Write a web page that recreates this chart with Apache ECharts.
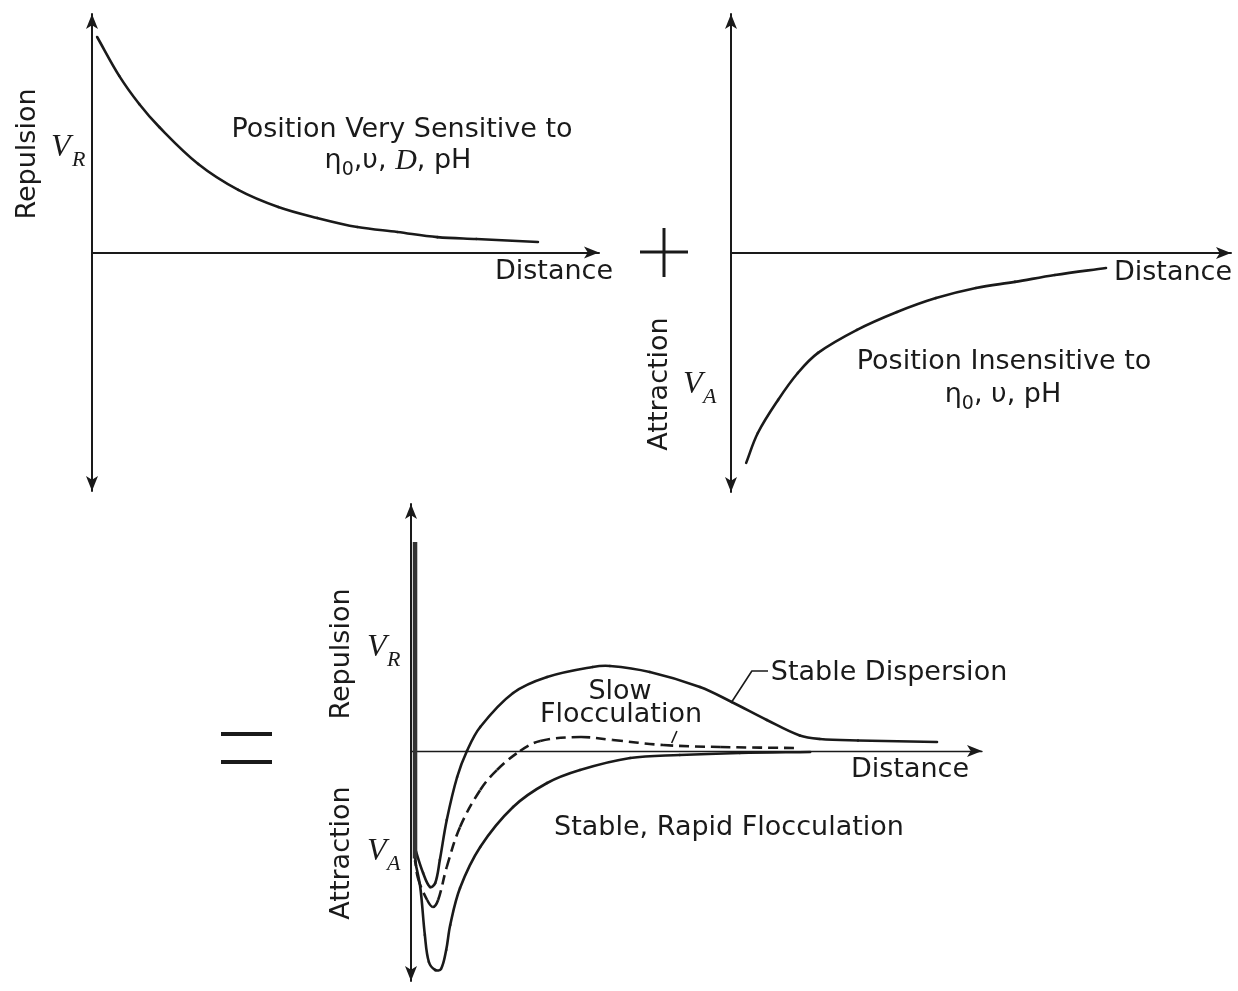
<!DOCTYPE html>
<html>
<head>
<meta charset="utf-8">
<script src="https://cdn.jsdelivr.net/npm/echarts@6/dist/echarts.min.js"></script>
<style>
html,body{margin:0;padding:0;background:#fff;}
#chart{width:1238px;height:991px;}
</style>
</head>
<body>
<div id="chart"></div>
<script>
// ---- Panel 1: repulsion V_R vs distance ----
const p1Distance = [0.10,0.53,0.92,1.31,2.07,2.85,3.63,4.39,5.17,5.95,6.73,7.49,8.69];
const p1Repulsion = [8.81,7.22,6.07,5.13,3.62,2.56,1.86,1.41,1.04,0.84,0.63,0.55,0.43];

// ---- Panel 2: attraction V_A vs distance ----
const p2Distance = [0.30,0.53,0.93,1.32,1.72,2.49,3.28,4.05,4.84,5.61,6.40,7.41];
const p2Attraction = [-8.57,-7.35,-6.00,-4.90,-4.08,-3.14,-2.41,-1.84,-1.43,-1.18,-0.90,-0.61];

// ---- Panel 3: total potential ----
const wallDistance = [0.07,0.07];
const wallValue = [8.36,-4.3];

const stableDistance = [0.07,0.21,0.33,0.42,0.50,0.62,0.80,0.97,1.20,1.77,2.36,3.15,3.45,4.14,5.01,5.56,6.17,6.74,7.09,7.75,9.12];
const stableValue = [-3.9,-4.88,-5.44,-5.28,-4.36,-2.76,-1.04,0,0.96,2.32,2.96,3.36,3.40,3.16,2.56,1.96,1.24,0.62,0.48,0.42,0.36];

const slowDistance = [0.07,0.12,0.28,0.38,0.47,0.62,0.85,1.20,1.49,1.89,2.24,2.93,3.50,4.37,5.36,6.74];
const slowValue = [-4.2,-5.08,-5.96,-6.24,-5.96,-4.64,-3.04,-1.56,-0.76,0,0.40,0.56,0.44,0.24,0.16,0.12];

const rapidDistance = [0.07,0.16,0.24,0.31,0.42,0.52,0.61,0.68,0.85,1.20,1.77,2.36,2.93,3.80,4.66,5.70,6.92];
const rapidValue = [-4.4,-5.44,-7.36,-8.44,-8.76,-8.72,-7.96,-6.96,-5.48,-3.84,-2.24,-1.28,-0.76,-0.28,-0.16,-0.08,-0.04];

// leader lines for annotations (data coords)
const leaderStableX = [6.19,5.91,5.56];
const leaderStableY = [3.2,3.2,1.96];
const leaderSlowX = [4.61,4.52];
const leaderSlowY = [0.8,0.32];

const zip = (xs, ys) => xs.map((x, i) => [x, ys[i]]);

const INK = '#1a1a1a';
const SANS = '"DejaVu Sans", sans-serif';
const SERIF = '"Liberation Serif", "DejaVu Serif", serif';
const FS = 27;

function axisX(grid, max, width) {
  return {
    type: 'value', gridIndex: grid, min: 0, max: max,
    axisLine: { show: true, onZero: true, symbol: ['none', 'arrow'], symbolSize: [9, 15],
      lineStyle: { color: INK, width: width } },
    axisTick: { show: false }, axisLabel: { show: false }, splitLine: { show: false }
  };
}
function axisY(grid, min, max, width) {
  return {
    type: 'value', gridIndex: grid, min: min, max: max,
    axisLine: { show: true, onZero: false, symbol: ['arrow', 'arrow'], symbolSize: [9, 15],
      lineStyle: { color: INK, width: width } },
    axisTick: { show: false }, axisLabel: { show: false }, splitLine: { show: false }
  };
}
function straight(xi, data, width, color) {
  return {
    type: 'line', xAxisIndex: xi, yAxisIndex: xi, data: data,
    showSymbol: false, symbol: 'none', smooth: false, silent: true,
    lineStyle: { color: color || INK, width: width }
  };
}
// Smooth curve through the data points: each segment drawn as a bezier whose
// end points come from the axes (api.coord).
function spline(xi, xs, ys, width, dash) {
  const S = 0.36;
  const n = xs.length;
  return {
    type: 'custom', coordinateSystem: 'cartesian2d', xAxisIndex: xi, yAxisIndex: xi,
    data: zip(xs, ys), silent: true, clip: false,
    renderItem: function (params, api) {
      const i = params.dataIndex;
      if (i >= n - 1) return null;
      const P = k => { k = Math.max(0, Math.min(n - 1, k)); return api.coord([xs[k], ys[k]]); };
      const a = P(i - 1), b = P(i), c = P(i + 1), d = P(i + 2);
      const dist = (p, q) => Math.hypot(q[0] - p[0], q[1] - p[1]);
      let d0 = dist(a, b), d1 = dist(b, c);
      let r = (d0 + d1) > 0 ? d1 / (d0 + d1) : 0.5;
      const c1 = [b[0] + (c[0] - a[0]) * S * r, b[1] + (c[1] - a[1]) * S * r];
      d0 = dist(b, c); d1 = dist(c, d);
      r = (d0 + d1) > 0 ? d0 / (d0 + d1) : 0.5;
      const c2 = [c[0] - (d[0] - b[0]) * S * r, c[1] - (d[1] - b[1]) * S * r];
      return {
        type: 'bezierCurve',
        shape: { x1: b[0], y1: b[1], x2: c[0], y2: c[1], cpx1: c1[0], cpy1: c1[1], cpx2: c2[0], cpy2: c2[1] },
        style: { stroke: INK, lineWidth: width, fill: 'none', lineDash: dash || null, lineCap: dash ? 'butt' : 'round' }
      };
    }
  };
}
function txt(x, y, text, extra) {
  return Object.assign({
    type: 'text', x: x, y: y, silent: true,
    style: { text: text, fill: INK, font: FS + 'px ' + SANS, textAlign: 'center', textVerticalAlign: 'middle' }
  }, extra || {});
}
function italic(x, y, text, size) {
  return {
    type: 'text', x: x, y: y, silent: true,
    style: { text: text, fill: INK, font: 'italic ' + size + 'px ' + SERIF, textAlign: 'left', textVerticalAlign: 'middle' }
  };
}
function seg(x1, y1, x2, y2, w) {
  return { type: 'line', silent: true, shape: { x1: x1, y1: y1, x2: x2, y2: y2 }, style: { stroke: INK, lineWidth: w } };
}
function richEta(x, y, parts) {
  return {
    type: 'text', x: x, y: y, silent: true,
    style: {
      text: parts, fill: INK, textAlign: 'center', textVerticalAlign: 'middle',
      rich: {
        a: { fontFamily: SANS, fontSize: FS, fill: INK, lineHeight: 38, verticalAlign: 'middle' },
        s: { fontFamily: SANS, fontSize: 19, fill: INK, lineHeight: 38, verticalAlign: 'bottom' },
        d: { fontFamily: SERIF, fontStyle: 'italic', fontSize: 30, fill: INK, lineHeight: 38, verticalAlign: 'middle' }
      }
    }
  };
}

const chart = echarts.init(document.getElementById('chart'), null, { renderer: 'canvas' });
chart.setOption({
  backgroundColor: '#ffffff',
  animation: false,
  grid: [
    { left: 92, top: 14, width: 507, height: 477, containLabel: false, outerBoundsMode: 'none' },
    { left: 731, top: 14, width: 500, height: 478, containLabel: false, outerBoundsMode: 'none' },
    { left: 411, top: 504, width: 571, height: 477, containLabel: false, outerBoundsMode: 'none' }
  ],
  xAxis: [axisX(0, 9.88, 2), axisX(1, 9.88, 2), axisX(2, 9.9, 1.4)],
  yAxis: [axisY(0, -9.75, 9.75, 2), axisY(1, -9.76, 9.76, 2), axisY(2, -9.2, 9.88, 2)],
  series: [
    spline(0, p1Distance, p1Repulsion, 2.6),
    spline(1, p2Distance, p2Attraction, 2.6),
    straight(2, zip(wallDistance, wallValue), 4.5, '#333'),
    spline(2, stableDistance, stableValue, 2.6),
    spline(2, slowDistance, slowValue, 2.6, [10, 6]),
    spline(2, rapidDistance, rapidValue, 2.6),
    straight(2, zip(leaderStableX, leaderStableY), 1.6),
    straight(2, zip(leaderSlowX, leaderSlowY), 1.6)
  ],
  graphic: { elements: [
    // panel 1
    txt(28, 154, 'Repulsion', { rotation: Math.PI / 2 }),
    italic(51, 148, 'V', 32), italic(72, 160, 'R', 22),
    txt(402, 130, 'Position Very Sensitive to'),
    richEta(398, 161, '{a|η}{s|0}{a|,υ, }{d|D}{a|, pH}'),
    txt(554, 272, 'Distance'),
    // plus sign
    seg(640, 252, 688, 252, 3), seg(664, 228, 664, 277, 3),
    // panel 2
    txt(660, 384, 'Attraction', { rotation: Math.PI / 2 }),
    italic(683, 385, 'V', 32), italic(703, 397, 'A', 22),
    txt(1004, 362, 'Position Insensitive to'),
    richEta(1003, 395, '{a|η}{s|0}{a|, υ, pH}'),
    txt(1173, 273, 'Distance'),
    // equals sign
    seg(221, 734, 272, 734, 4), seg(221, 762, 272, 762, 4),
    // panel 3
    txt(342, 654, 'Repulsion', { rotation: Math.PI / 2 }),
    txt(342, 853, 'Attraction', { rotation: Math.PI / 2 }),
    italic(367, 648, 'V', 32), italic(387, 660, 'R', 22),
    italic(367, 852, 'V', 32), italic(387, 864, 'A', 22),
    txt(889, 673, 'Stable Dispersion'),
    txt(620, 692, 'Slow'),
    txt(621, 715, 'Flocculation'),
    txt(910, 770, 'Distance'),
    txt(729, 828, 'Stable, Rapid Flocculation')
  ] }
});
</script>
</body>
</html>
